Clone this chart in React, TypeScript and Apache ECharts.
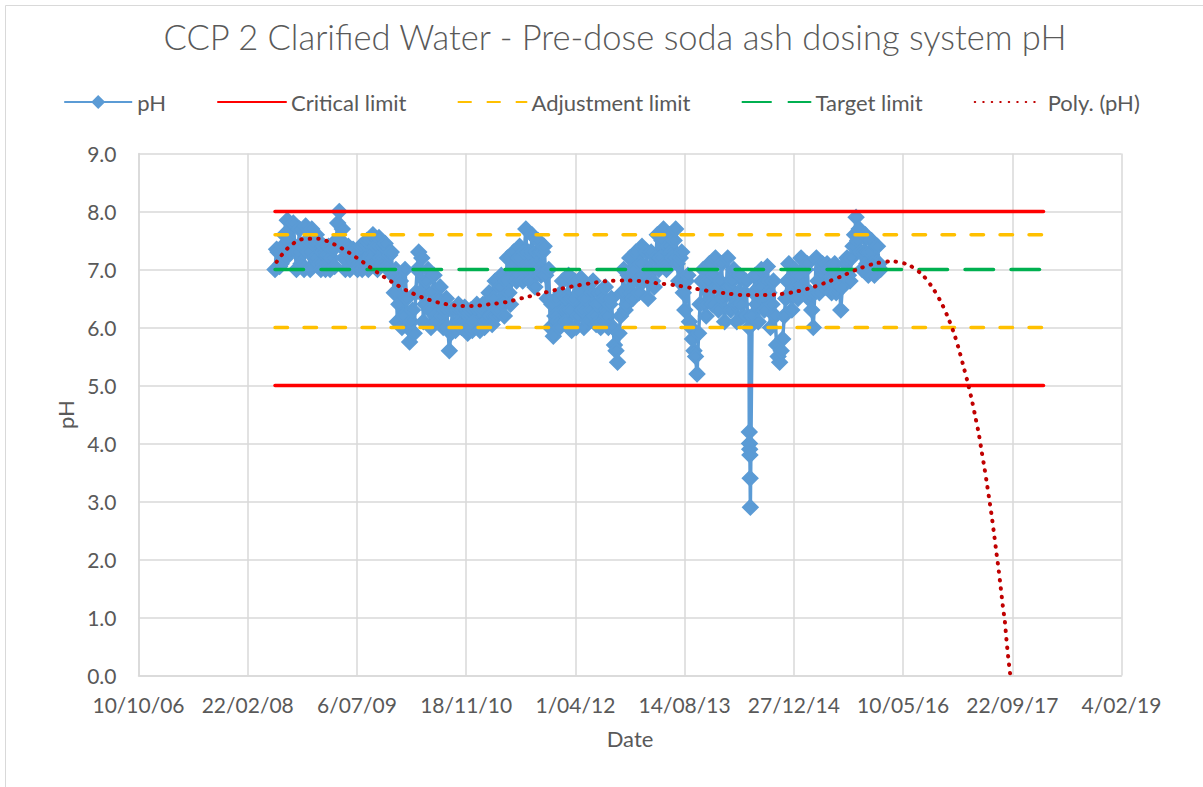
import React, { useEffect, useRef } from "react";
import * as echarts from "echarts";

// Excel-style date serials (days) and pH readings
const phDates = [
  39625, 39632, 39639, 39646, 39653, 39660, 39667, 39674, 39681, 39688,
  39695, 39702, 39709, 39716, 39723, 39730, 39737, 39744, 39751, 39758,
  39765, 39772, 39779, 39786, 39793, 39800, 39807, 39814, 39821, 39828,
  39835, 39842, 39849, 39856, 39863, 39870, 39877, 39884, 39891, 39898,
  39905, 39912, 39919, 39926, 39933, 39940, 39947, 39954, 39961, 39968,
  39975, 39982, 39989, 39996, 40003, 40010, 40017, 40024, 40031, 40038,
  40045, 40052, 40059, 40066, 40073, 40080, 40087, 40094, 40101, 40108,
  40115, 40122, 40129, 40136, 40143, 40150, 40157, 40164, 40171, 40178,
  40185, 40192, 40199, 40206, 40213, 40220, 40227, 40234, 40241, 40248,
  40255, 40262, 40269, 40276, 40283, 40290, 40297, 40304, 40311, 40318,
  40325, 40332, 40339, 40346, 40353, 40360, 40367, 40374, 40381, 40388,
  40395, 40402, 40409, 40416, 40423, 40430, 40437, 40444, 40451, 40458,
  40465, 40472, 40479, 40486, 40493, 40500, 40507, 40514, 40521, 40528,
  40535, 40542, 40549, 40556, 40563, 40570, 40577, 40584, 40591, 40598,
  40605, 40612, 40619, 40626, 40633, 40640, 40647, 40654, 40661, 40668,
  40675, 40682, 40689, 40696, 40703, 40710, 40717, 40724, 40731, 40738,
  40745, 40752, 40759, 40766, 40773, 40780, 40787, 40794, 40801, 40808,
  40815, 40822, 40829, 40836, 40843, 40850, 40857, 40864, 40871, 40878,
  40885, 40892, 40899, 40906, 40913, 40920, 40927, 40934, 40941, 40948,
  40955, 40962, 40969, 40976, 40983, 40990, 40997, 41004, 41011, 41018,
  41025, 41032, 41039, 41046, 41053, 41060, 41067, 41074, 41081, 41088,
  41095, 41102, 41109, 41116, 41123, 41130, 41137, 41144, 41151, 41158,
  41165, 41172, 41179, 41186, 41193, 41200, 41207, 41214, 41221, 41228,
  41235, 41242, 41249, 41256, 41263, 41270, 41277, 41284, 41291, 41298,
  41305, 41312, 41319, 41326, 41333, 41340, 41347, 41354, 41361, 41368,
  41375, 41382, 41389, 41396, 41403, 41410, 41417, 41424, 41431, 41438,
  41445, 41452, 41459, 41466, 41473, 41480, 41487, 41494, 41501, 41508,
  41515, 41522, 41529, 41536, 41543, 41550, 41557, 41564, 41571, 41578,
  41585, 41592, 41599, 41606, 41613, 41620, 41627, 41634, 41641, 41648,
  41655, 41662, 41669, 41676, 41683, 41690, 41697, 41704, 41711, 41718,
  41725, 41732, 41739, 41746, 41753, 41760, 41767, 41774, 41781, 41788,
  41795, 41796, 41797, 41798, 41799, 41800, 41801,
  41809, 41816, 41823, 41830, 41837, 41844, 41851, 41858,
  41865, 41872, 41879, 41886, 41893, 41900, 41907, 41914, 41921, 41928,
  41935, 41942, 41949, 41956, 41963, 41970, 41977, 41984, 41991, 41998,
  42005, 42012, 42019, 42026, 42033, 42040, 42047, 42054, 42061, 42068,
  42075, 42082, 42089, 42096, 42103, 42110, 42117, 42124, 42131, 42138,
  42145, 42152, 42159, 42166, 42173, 42180, 42187, 42194, 42201, 42208,
  42215, 42222, 42229, 42236, 42243, 42250, 42257, 42264, 42271, 42278,
  42285, 42292, 42299, 42306, 42313, 42320, 42327, 42334, 42341, 42348,
  42355, 42362, 42369, 42376, 42383, 42390, 42397,
];
const phValues = [
  7.0, 7.35, 7.3, 7.05, 7.1, 7.4, 7.6, 7.2, 7.85, 7.5,
  7.3, 7.75, 7.8, 7.4, 7.0, 7.3, 7.7, 7.1, 7.4, 7.0,
  7.75, 7.5, 7.3, 7.0, 7.7, 7.45, 7.2, 7.6, 7.5, 7.1,
  7.0, 7.3, 7.4, 7.0, 7.25, 7.4, 7.0, 7.2, 7.35, 7.05,
  7.5, 7.8, 8.0, 7.5, 7.7, 7.2, 7.0, 7.3, 7.4, 7.0,
  7.05, 7.35, 7.3, 7.1, 7.0, 7.3, 7.4, 7.0, 7.1, 7.45,
  7.5, 7.0, 7.2, 7.55, 7.6, 7.1, 7.4, 7.0, 7.55, 7.2,
  7.1, 7.4, 7.45, 7.05, 7.0, 7.25, 7.3, 6.9, 6.6, 7.0,
  6.1, 6.4, 6.8, 6.0, 6.2, 7.0, 6.5, 6.0, 5.75, 6.1,
  6.3, 5.9, 6.6, 7.0, 7.3, 6.6, 7.2, 6.1, 6.4, 6.8,
  7.0, 6.3, 6.0, 6.6, 6.9, 6.2, 6.1, 6.5, 6.7, 6.2,
  6.0, 6.3, 6.5, 6.0, 5.6, 5.9, 6.3, 6.0, 5.95, 6.3,
  6.4, 6.1, 6.0, 6.3, 6.35, 6.0, 5.9, 6.25, 6.3, 5.95,
  6.1, 6.35, 6.4, 6.0, 5.95, 6.3, 6.4, 6.0, 6.1, 6.45,
  6.6, 6.2, 6.05, 6.5, 6.8, 6.2, 6.3, 6.7, 6.9, 6.4,
  6.2, 6.8, 7.2, 6.6, 6.4, 7.0, 7.3, 6.9, 6.8, 7.2,
  7.4, 6.9, 6.8, 7.3, 7.7, 7.0, 7.3, 6.8, 7.6, 7.0,
  6.7, 7.3, 7.5, 7.0, 6.9, 7.3, 7.4, 6.9, 6.5, 7.0,
  6.0, 6.4, 5.85, 6.2, 6.5, 6.1, 6.0, 6.6, 6.8, 6.3,
  6.1, 6.5, 6.9, 6.3, 5.95, 6.5, 6.8, 6.0, 6.2, 6.6,
  6.85, 6.3, 6.0, 6.5, 6.7, 6.1, 6.3, 6.6, 6.8, 6.2,
  6.05, 6.4, 6.6, 6.0, 6.1, 6.5, 6.7, 6.2, 6.0, 6.4,
  6.5, 6.0, 5.7, 5.6, 5.4, 5.9, 6.2, 6.6, 7.0, 6.3,
  6.4, 6.9, 7.2, 6.6, 6.5, 7.0, 7.3, 6.8, 6.6, 7.1,
  7.4, 6.8, 6.9, 7.3, 6.5, 7.0, 7.3, 6.8, 6.7, 7.2,
  7.6, 7.0, 7.2, 7.5, 7.7, 7.1, 7.0, 7.4, 7.6, 7.3,
  7.2, 7.5, 7.7, 7.1, 6.8, 7.2, 7.3, 6.6, 6.3, 6.8,
  6.9, 6.1, 6.0, 5.8, 5.6, 5.5, 5.2, 5.9, 6.4, 6.8,
  7.0, 6.4, 6.2, 6.8, 7.1, 6.5, 6.4, 6.9, 7.2, 6.7,
  6.3, 6.8, 7.1, 6.5, 6.1, 6.6, 7.2, 6.7, 6.3, 6.8,
  7.0, 6.4, 6.1, 6.6, 6.9, 6.4, 6.2, 6.6, 6.8, 6.2,
  6.0, 4.2, 4.0, 3.9, 3.8, 3.4, 2.9,
  6.2, 6.6, 6.9, 6.4, 6.1, 6.7, 7.0, 6.5, 6.3, 6.8,
  7.05, 6.6, 6.0, 6.4, 6.8, 6.2, 5.7, 5.5, 5.4, 5.6,
  5.8, 6.2, 6.5, 6.8, 7.1, 6.6, 6.3, 6.9, 7.0, 6.6,
  6.5, 6.9, 7.2, 6.7, 6.6, 7.0, 7.1, 6.5, 6.6, 6.3,
  6.0, 6.6, 7.2, 6.8, 6.6, 7.0, 7.1, 6.7, 6.7, 7.1,
  7.0, 6.7, 6.6, 6.9, 7.1, 6.6, 6.7, 6.9, 6.3, 6.7,
  6.9, 7.1, 7.2, 6.9, 6.8, 7.2, 7.4, 7.6, 7.9, 7.5,
  7.7, 7.3, 7.0, 7.3, 7.6, 7.1, 6.9, 7.3, 7.5, 7.1,
  6.9, 7.4, 7.4, 7.1, 7.0,
];

// Polynomial trendline as drawn in the reference
const polyDates = [
  39632, 39681, 39747, 39823, 39898, 39964, 40030, 40093, 40158, 40227,
  40298, 40373, 40451, 40529, 40605, 40685, 40760, 40837, 40913, 40989,
  41066, 41143, 41221, 41300, 41380, 41456, 41532, 41610, 41688, 41767,
  41843, 41921, 41999, 42075, 42150, 42222, 42295, 42369, 42447, 42524,
  42588, 42636, 42676, 42707, 42735, 42758, 42778, 42798, 42816, 42832,
  42847, 42860, 42873, 42885, 42897, 42908, 42918, 42928, 42938, 42947,
  42956, 42966, 42973, 42981, 42991,
];
const polyValues = [
  7.13, 7.36, 7.52, 7.53, 7.43, 7.29, 7.12, 6.95, 6.79, 6.64,
  6.52, 6.43, 6.38, 6.37, 6.40, 6.44, 6.51, 6.58, 6.65, 6.71,
  6.76, 6.80, 6.81, 6.80, 6.76, 6.73, 6.68, 6.63, 6.59, 6.56,
  6.56, 6.57, 6.61, 6.68, 6.78, 6.89, 7.01, 7.10, 7.14, 7.08,
  6.91, 6.68, 6.42, 6.16, 5.88, 5.59, 5.31, 5.02, 4.73, 4.44,
  4.16, 3.86, 3.57, 3.28, 2.98, 2.69, 2.40, 2.10, 1.81, 1.52,
  1.22, 0.93, 0.63, 0.33, 0.0,
];

// Limit lines
const limitStart = 39625;
const limitEnd = 43143;
const criticalUpper = 8.0;
const criticalLower = 5.0;
const adjustmentUpper = 7.6;
const adjustmentLower = 6.0;
const targetLimit = 7.0;

// Axes
const xMin = 39000;
const xMax = 43500;
const xInterval = 500;
const yMin = 0;
const yMax = 9;
const yInterval = 1;

const FONT = "Lato, 'Open Sans', sans-serif";
const TEXT = "#595959";
const BLUE = "#5B9BD5";

function serialToLabel(v: number): string {
  const d = new Date(Math.round((v - 25569) * 86400000));
  const day = d.getUTCDate();
  const mon = String(d.getUTCMonth() + 1).padStart(2, "0");
  const yr = String(d.getUTCFullYear() % 100).padStart(2, "0");
  return `${day}/${mon}/${yr}`;
}

export default function App() {
  const ref = useRef<HTMLDivElement>(null);

  useEffect(() => {
    if (!ref.current) return;
    const chart = echarts.init(ref.current, undefined, { renderer: "svg" });

    const phData = phDates.map((d, i) => [d, phValues[i]]);
    const polyData = polyDates.map((d, i) => [d, polyValues[i]]);
    const hline = (v: number) => [
      [limitStart, v],
      [limitEnd, v],
    ];

    const limitBase = {
      type: "line",
      symbol: "none",
      silent: true,
      animation: false,
    };
    const noSymbol = { itemStyle: { opacity: 0 } };

    chart.setOption({
      animation: false,
      backgroundColor: "#ffffff",
      textStyle: { fontFamily: FONT },
      title: {
        text: "CCP 2 Clarified Water - Pre-dose soda ash dosing system pH",
        left: 610,
        textAlign: "center",
        top: 14,
        textStyle: {
          fontFamily: FONT,
          fontSize: 34.5,
          fontWeight: 300,
          color: TEXT,
        },
      },
      legend: {
        top: 86,
        left: "center",
        itemWidth: 68,
        itemHeight: 14,
        itemGap: 51,
        textStyle: { fontFamily: FONT, fontSize: 22, color: TEXT },
        data: [
          { name: "pH" },
          { name: "Critical limit", ...noSymbol },
          { name: "Adjustment limit", ...noSymbol },
          { name: "Target limit", ...noSymbol },
          { name: "Poly. (pH)", ...noSymbol },
        ],
      },
      grid: {
        left: 138.5,
        right: 81.5,
        top: 153.5,
        bottom: 111.5,
        containLabel: false,
      },
      xAxis: {
        type: "value",
        min: xMin,
        max: xMax,
        interval: xInterval,
        name: "Date",
        nameLocation: "middle",
        nameGap: 52,
        nameTextStyle: { fontFamily: FONT, fontSize: 22, color: TEXT },
        axisLine: { show: true, lineStyle: { color: "#D9D9D9", width: 1.5 } },
        axisTick: { show: false },
        splitLine: { show: true, lineStyle: { color: "#D9D9D9", width: 1.5 } },
        axisLabel: {
          margin: 18,
          fontFamily: FONT,
          fontSize: 21,
          color: TEXT,
          formatter: (v: number) => serialToLabel(v),
        },
      },
      yAxis: {
        type: "value",
        min: yMin,
        max: yMax,
        interval: yInterval,
        name: "pH",
        nameLocation: "middle",
        nameGap: 62,
        nameTextStyle: { fontFamily: FONT, fontSize: 22, color: TEXT },
        axisLine: { show: true, lineStyle: { color: "#D9D9D9", width: 1.5 } },
        axisTick: { show: false },
        splitLine: { show: true, lineStyle: { color: "#D9D9D9", width: 1.5 } },
        axisLabel: {
          margin: 22,
          fontFamily: FONT,
          fontSize: 21,
          color: TEXT,
          formatter: (v: number) => v.toFixed(1),
        },
      },
      graphic: [
        {
          type: "rect",
          silent: true,
          shape: { x: 5.5, y: 5.5, width: 1260, height: 860 },
          style: { fill: "none", stroke: "#D9D9D9", lineWidth: 1 },
        },
      ],
      series: [
        {
          name: "pH",
          type: "line",
          data: phData,
          symbol: "diamond",
          symbolSize: 14,
          showAllSymbol: true,
          color: BLUE,
          lineStyle: { color: BLUE, width: 3.5, join: "round" },
          itemStyle: { color: BLUE, borderColor: BLUE, borderWidth: 2.5 },
          z: 2,
          silent: true,
        },
        {
          ...limitBase,
          name: "Critical limit",
          data: hline(criticalUpper),
          color: "#FF0000",
          lineStyle: { color: "#FF0000", width: 3.5, cap: "round" },
          z: 3,
        },
        {
          ...limitBase,
          name: "Critical limit",
          data: hline(criticalLower),
          color: "#FF0000",
          lineStyle: { color: "#FF0000", width: 3.5, cap: "round" },
          z: 3,
        },
        {
          ...limitBase,
          name: "Adjustment limit",
          data: hline(adjustmentUpper),
          color: "#FFC000",
          lineStyle: { color: "#FFC000", width: 3.5, type: [12.5, 16.5], cap: "round" },
          z: 3,
        },
        {
          ...limitBase,
          name: "Adjustment limit",
          data: hline(adjustmentLower),
          color: "#FFC000",
          lineStyle: { color: "#FFC000", width: 3.5, type: [12.5, 16.5], cap: "round" },
          z: 3,
        },
        {
          ...limitBase,
          name: "Target limit",
          data: hline(targetLimit),
          color: "#00B050",
          lineStyle: { color: "#00B050", width: 3.5, type: [28.5, 17.5], cap: "round" },
          z: 3,
        },
        {
          ...limitBase,
          name: "Poly. (pH)",
          data: polyData,
          smooth: 0.3,
          color: "#C00000",
          lineStyle: { color: "#C00000", width: 4, type: [0.5, 8], cap: "round" },
          z: 4,
        },
      ],
    });

    return () => {
      chart.dispose();
    };
  }, []);

  return (
    <div
      ref={ref}
      style={{
        position: "fixed",
        left: 0,
        top: 0,
        width: 1203,
        height: 787,
        background: "#ffffff",
      }}
    />
  );
}
